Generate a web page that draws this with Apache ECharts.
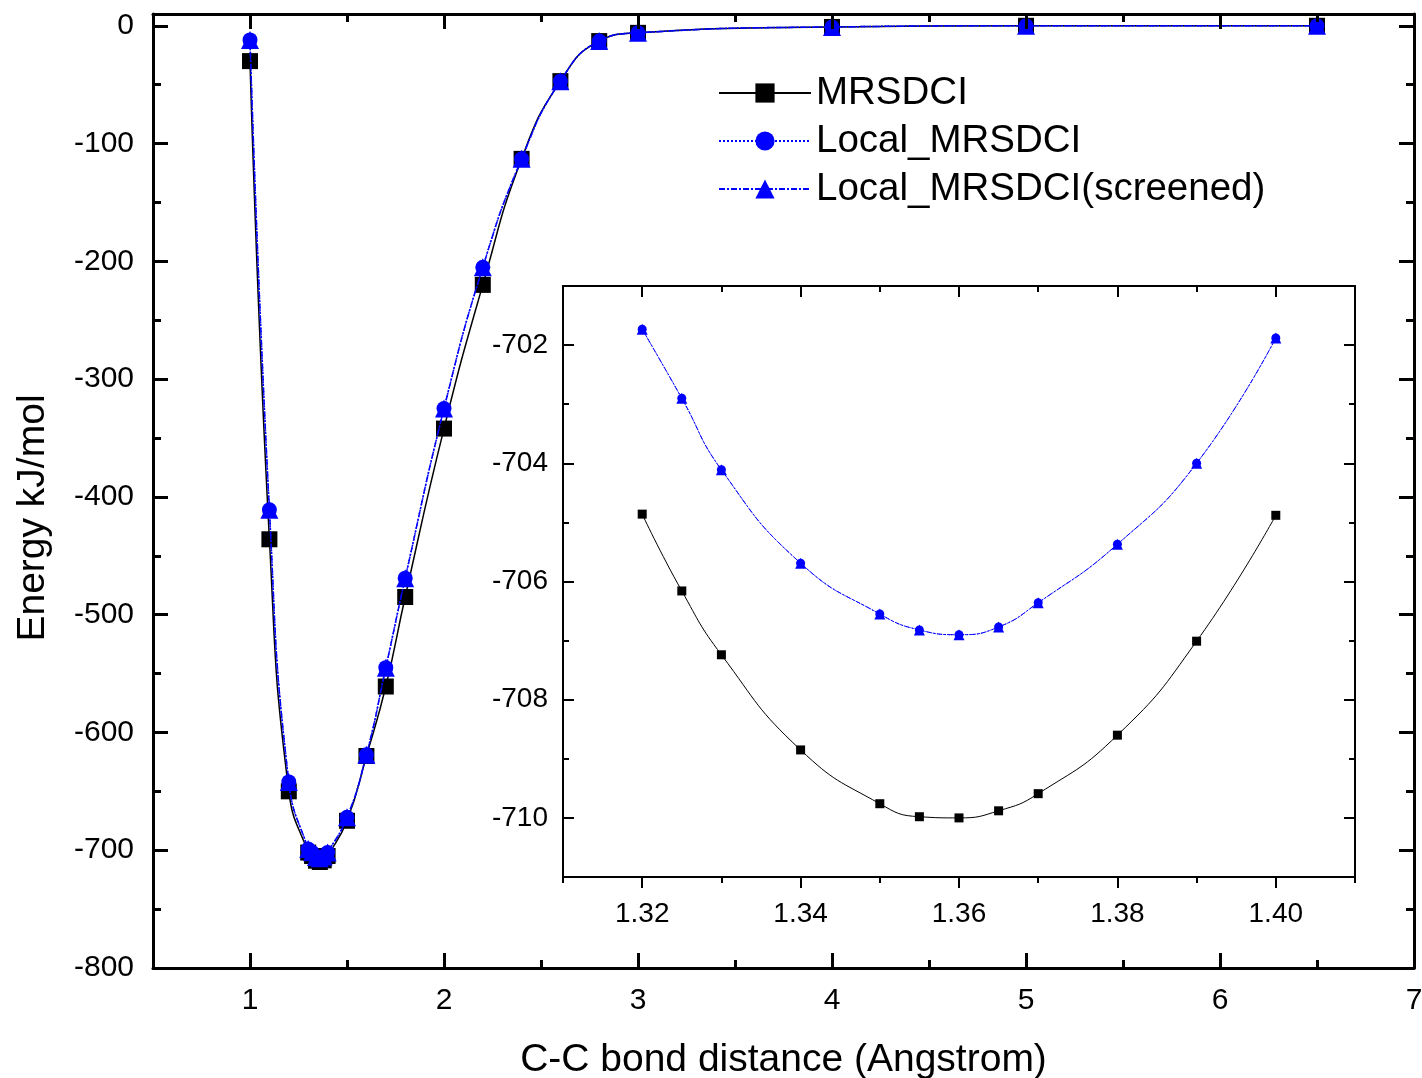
<!DOCTYPE html>
<html>
<head>
<meta charset="utf-8">
<script src="https://cdn.jsdelivr.net/npm/echarts@6/dist/echarts.min.js"></script>
<style>html,body{margin:0;padding:0;background:#fff}#c{width:1422px;height:1078px}</style>
</head>
<body>
<div id="c"></div>
<script>
// ---- Main chart data ----
const mainX = [1.0, 1.1, 1.2, 1.3, 1.32, 1.34, 1.36, 1.38, 1.4, 1.5, 1.6, 1.7, 1.8, 2.0, 2.2, 2.4, 2.6, 2.8, 3.0, 4.0, 5.0, 6.5];
const mainMRSDCI = [-30, -436, -650, -702, -704.9, -708.9, -710.0, -708.6, -704.9, -675, -620, -561, -485, -342, -220, -113, -47, -13, -6, -1, 0, 0];
const mainLocal = [-12, -411, -642, -699, -701.7, -705.7, -706.9, -705.4, -701.9, -672, -619, -545, -469, -325, -205, -113, -47, -13, -6, -1, 0, 0];
const mainScreened = [-12, -411, -642, -699, -701.7, -705.7, -706.9, -705.4, -701.9, -672, -619, -545, -469, -325, -205, -113, -47, -13, -6, -1, 0, 0];

// ---- Inset data ----
const insetX = [1.32, 1.325, 1.33, 1.34, 1.35, 1.355, 1.36, 1.365, 1.37, 1.38, 1.39, 1.40];
const insetMRSDCI = [-704.86, -706.16, -707.24, -708.85, -709.76, -709.98, -710.0, -709.88, -709.59, -708.60, -707.01, -704.88];
const insetLocal = [-701.73, -702.90, -704.11, -705.69, -706.55, -706.82, -706.90, -706.77, -706.36, -705.37, -704.00, -701.88];
const insetScreened = [-701.73, -702.90, -704.11, -705.69, -706.55, -706.82, -706.90, -706.77, -706.36, -705.37, -704.00, -701.88];

// ---- Tick values ----
const mainXMajor = [1, 2, 3, 4, 5, 6, 7];
const mainXMinor = [1.5, 2.5, 3.5, 4.5, 5.5, 6.5];
const mainYMajor = [0, -100, -200, -300, -400, -500, -600, -700, -800];
const mainYMinor = [-50, -150, -250, -350, -450, -550, -650, -750];
const insetXMajor = [1.32, 1.34, 1.36, 1.38, 1.40];
const insetXMinor = [1.31, 1.33, 1.35, 1.37, 1.39, 1.41];
const insetYMajor = [-702, -704, -706, -708, -710];
const insetYMinor = [-701, -703, -705, -707, -709, -711];

const seriesNames = ['MRSDCI', 'Local_MRSDCI', 'Local_MRSDCI(screened)'];
const FONT = 'Arial, "Liberation Sans", sans-serif';
const BLUE = '#0000FF';

function zip(xs, ys) { return xs.map((x, i) => [x, ys[i]]); }

function axis(kind, o) {
  const a = {
    type: 'value', gridIndex: o.grid, position: o.pos, min: o.min, max: o.max,
    splitLine: { show: false },
    axisLine: { show: !!o.line, onZero: false, lineStyle: { color: '#000', width: o.lw || 2 } },
    axisTick: { show: true, customValues: o.ticks, inside: o.inside, length: o.len,
      lineStyle: { color: '#000', width: o.lw || 2 } },
    axisLabel: o.labels ? { show: true, customValues: o.labels, fontSize: o.fs, fontFamily: FONT,
      color: '#000', margin: o.margin, formatter: o.fmt } : { show: false },
    z: 5
  };
  if (o.name) Object.assign(a, o.name);
  return a;
}

const xAxes = [
  axis('x', { grid: 0, pos: 'bottom', min: 0.5, max: 7, line: true, lw: 3, ticks: mainXMajor, inside: true, len: 15,
    labels: mainXMajor, fs: 30, margin: 18, fmt: v => String(Math.round(v)),
    name: { name: 'C-C bond distance (Angstrom)', nameLocation: 'middle', nameGap: 73,
      nameTextStyle: { fontSize: 39, fontFamily: FONT, color: '#000' } } }),
  axis('x', { grid: 0, pos: 'bottom', min: 0.5, max: 7, ticks: mainXMinor, inside: true, len: 8, lw: 3 }),
  axis('x', { grid: 0, pos: 'top', min: 0.5, max: 7, line: true, lw: 3, ticks: mainXMajor, inside: true, len: 15 }),
  axis('x', { grid: 0, pos: 'top', min: 0.5, max: 7, ticks: mainXMinor, inside: true, len: 8, lw: 3 }),
  axis('x', { grid: 1, pos: 'bottom', min: 1.31, max: 1.41, line: true, lw: 2, ticks: insetXMajor, inside: false, len: 11,
    labels: insetXMajor, fs: 28, margin: 23, fmt: v => v.toFixed(2) }),
  axis('x', { grid: 1, pos: 'bottom', min: 1.31, max: 1.41, ticks: insetXMinor, inside: false, len: 6, lw: 2 }),
  axis('x', { grid: 1, pos: 'top', min: 1.31, max: 1.41, line: true, lw: 2, ticks: insetXMajor, inside: true, len: 11 }),
  axis('x', { grid: 1, pos: 'top', min: 1.31, max: 1.41, ticks: insetXMinor, inside: true, len: 6, lw: 2 })
];
const yAxes = [
  axis('y', { grid: 0, pos: 'left', min: -800, max: 10, line: true, lw: 3, ticks: mainYMajor, inside: true, len: 15,
    labels: mainYMajor, fs: 30, margin: 19, fmt: v => String(Math.round(v)),
    name: { name: 'Energy kJ/mol', nameLocation: 'middle', nameGap: 100, nameRotate: 90,
      nameTextStyle: { fontSize: 39, fontFamily: FONT, color: '#000', padding: [0, 54, 0, 0] } } }),
  axis('y', { grid: 0, pos: 'left', min: -800, max: 10, ticks: mainYMinor, inside: true, len: 8, lw: 3 }),
  axis('y', { grid: 0, pos: 'right', min: -800, max: 10, line: true, lw: 3, ticks: mainYMajor, inside: true, len: 15 }),
  axis('y', { grid: 0, pos: 'right', min: -800, max: 10, ticks: mainYMinor, inside: true, len: 8, lw: 3 }),
  axis('y', { grid: 1, pos: 'left', min: -711, max: -701, line: true, lw: 2, ticks: insetYMajor, inside: true, len: 11,
    labels: insetYMajor, fs: 28, margin: 15, fmt: v => String(Math.round(v)) }),
  axis('y', { grid: 1, pos: 'left', min: -711, max: -701, ticks: insetYMinor, inside: true, len: 6, lw: 2 }),
  axis('y', { grid: 1, pos: 'right', min: -711, max: -701, line: true, lw: 2, ticks: insetYMajor, inside: true, len: 11 }),
  axis('y', { grid: 1, pos: 'right', min: -711, max: -701, ticks: insetYMinor, inside: true, len: 6, lw: 2 })
];

function mk(name, data, xi, yi, color, lineType, lw, symbol, size, z) {
  return {
    name, type: 'line', xAxisIndex: xi, yAxisIndex: yi, data, smooth: true,
    symbol, symbolSize: size, showSymbol: true,
    itemStyle: { color }, lineStyle: { color, width: lw, type: lineType },
    emphasis: { disabled: true }, z, animation: false
  };
}

const option = {
  animation: false,
  backgroundColor: '#fff',
  textStyle: { fontFamily: FONT },
  grid: [
    { left: 153, right: 8, top: 14, bottom: 110, show: false, outerBoundsMode: 'none', containLabel: false },
    { left: 563, right: 67, top: 286, bottom: 201, show: true, backgroundColor: '#fff', borderWidth: 0, z: 3,
      outerBoundsMode: 'none', containLabel: false }
  ],
  legend: {
    data: seriesNames, orient: 'vertical', left: 713, top: 68,
    itemWidth: 92, itemHeight: 24, itemGap: 8,
    textStyle: { fontSize: 38.5, fontFamily: FONT, color: '#000', lineHeight: 40 },
    selectedMode: false
  },
  xAxis: xAxes,
  yAxis: yAxes,
  series: [
    mk(seriesNames[0], zip(mainX, mainMRSDCI), 0, 0, '#000', 'solid', 1.5, 'rect', 16, 2),
    mk(seriesNames[1], zip(mainX, mainLocal), 0, 0, BLUE, 'dotted', 1.5, 'circle', 15, 3),
    mk(seriesNames[2], zip(mainX, mainScreened), 0, 0, BLUE, [6, 2, 2, 2], 1.5, 'triangle', 18, 4),
    mk(seriesNames[0], zip(insetX, insetMRSDCI), 4, 4, '#000', 'solid', 1, 'rect', 9, 6),
    mk(seriesNames[1], zip(insetX, insetLocal), 4, 4, BLUE, 'dotted', 1, 'circle', 9, 7),
    mk(seriesNames[2], zip(insetX, insetScreened), 4, 4, BLUE, [5, 2, 2, 2], 1, 'triangle', 11, 8)
  ]
};

const chart = echarts.init(document.getElementById('c'), null, { renderer: 'canvas' });
chart.setOption(option);
</script>
</body>
</html>
